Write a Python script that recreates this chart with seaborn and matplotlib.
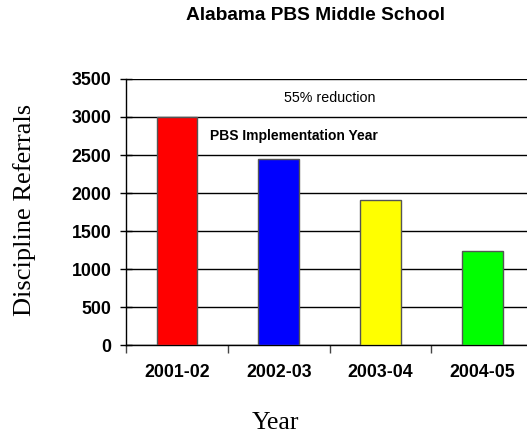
import numpy as np
import pandas as pd
import matplotlib
matplotlib.use("Agg")
import matplotlib.pyplot as plt
import seaborn as sns

# Data
years = ["2001-02", "2002-03", "2003-04", "2004-05"]
referrals = [3000, 2450, 1910, 1240]
bar_colors = ["#ff0000", "#0000ff", "#ffff00", "#00ff00"]

df = pd.DataFrame({"Year": years, "Referrals": referrals})

sns.set_style("white")
plt.rcParams["font.family"] = ["Liberation Sans", "DejaVu Sans"]
plt.rcParams["text.color"] = "black"
plt.rcParams["axes.labelcolor"] = "black"
plt.rcParams["xtick.color"] = "black"
plt.rcParams["ytick.color"] = "black"

fig = plt.figure(figsize=(5.27, 4.34), dpi=100)
ax = fig.add_axes([0.239, 0.205, 0.773, 0.613])

sns.barplot(data=df, x="Year", y="Referrals", hue="Year", palette=bar_colors,
            saturation=1, width=0.4, edgecolor="#555555", linewidth=1,
            legend=False, ax=ax, zorder=3)

ax.set_ylim(0, 3500)
ax.set_xlim(-0.5, 3.5)
ax.set_yticks(np.arange(0, 3501, 500))
ax.yaxis.grid(True, color="black", linewidth=1, zorder=0)
ax.set_axisbelow(True)

for s in ["top", "right"]:
    ax.spines[s].set_visible(False)
for s in ["left", "bottom"]:
    ax.spines[s].set_color("black")
    ax.spines[s].set_linewidth(1)

ax.tick_params(axis="y", direction="inout", length=9, width=1, color="black",
               labelsize=12.8, pad=6, left=True)
ax.tick_params(axis="x", which="major", length=0, pad=14, labelsize=12.8)
ax.set_xticks(np.arange(-0.5, 3.6, 1), minor=True)
ax.tick_params(axis="x", which="minor", direction="out", length=6, width=1,
               color="#444444", bottom=True)
for lab in ax.get_xticklabels() + ax.get_yticklabels():
    lab.set_fontweight("bold")

ax.set_ylabel("Discipline Referrals", family="Liberation Serif", fontsize=19, va="center")
ax.yaxis.set_label_coords(-0.25, 0.507)
ax.set_xlabel("Year", family="Liberation Serif", fontsize=18.5, va="center")
ax.xaxis.set_label_coords(0.368, -0.293)

fig.text(0.598, 0.965, "Alabama PBS Middle School", ha="center", va="center",
         fontsize=13.8, fontweight="bold")
ax.text(1.5, 3250, "55% reduction", ha="center", va="center", fontsize=10.3)
ax.text(0.33, 2750, "PBS Implementation Year", ha="left", va="center",
        fontsize=10, fontweight="bold")

fig.savefig("out.png", dpi=100)
